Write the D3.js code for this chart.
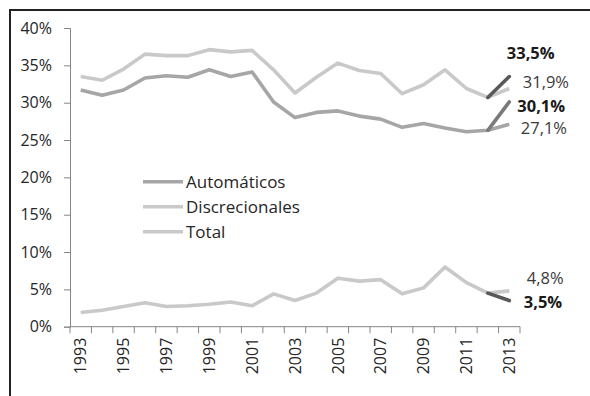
<!DOCTYPE html>
<html>
<head>
<meta charset="utf-8">
<script src="https://cdn.jsdelivr.net/npm/d3@7"></script>
<style>
  html, body { margin: 0; padding: 0; background: #fff; }
  svg { display: block; font-family: "Open Sans", sans-serif; }
</style>
</head>
<body>
<svg id="chart" width="590" height="396"></svg>
<script>
// Years on the category axis (every other one is labelled)
const years = [1993, 1994, 1995, 1996, 1997, 1998, 1999, 2000, 2001, 2002, 2003,
               2004, 2005, 2006, 2007, 2008, 2009, 2010, 2011, 2012, 2013];
const tickYears = [1993, 1995, 1997, 1999, 2001, 2003, 2005, 2007, 2009, 2011, 2013];
const yTicks = [0, 5, 10, 15, 20, 25, 30, 35, 40];

// Share of GDP (%), 1993-2013
const total = [33.5, 33.0, 34.5, 36.5, 36.3, 36.3, 37.1, 36.8, 37.0, 34.4, 31.3,
               33.4, 35.3, 34.3, 33.9, 31.2, 32.4, 34.4, 31.9, 30.7, 31.9];
const automaticos = [31.7, 31.0, 31.7, 33.3, 33.6, 33.4, 34.4, 33.5, 34.1, 30.1, 28.0,
                     28.7, 28.9, 28.2, 27.8, 26.7, 27.2, 26.6, 26.1, 26.3, 27.1];
const discrecionales = [1.9, 2.2, 2.7, 3.2, 2.7, 2.8, 3.0, 3.3, 2.8, 4.4, 3.5,
                        4.5, 6.5, 6.1, 6.3, 4.4, 5.2, 8.0, 5.9, 4.5, 4.8];

// Alternative 2013 values (highlighted segment 2012 -> 2013)
const alt2013 = { total: 33.5, automaticos: 30.1, discrecionales: 3.5 };

const legendNames = ["Automáticos", "Discrecionales", "Total"];

const fmt = v => d3.format(".1f")(v).replace(".", ",") + "%";

const svg = d3.select("#chart");

// outer frame
svg.append("rect")
  .attr("x", 10).attr("y", 10).attr("width", 620).attr("height", 420)
  .attr("fill", "none").attr("stroke", "#222").attr("stroke-width", 2);

const x = d3.scaleBand().domain(years).range([70, 520]).padding(0);
const xc = yr => x(yr) + x.bandwidth() / 2;
const y = d3.scaleLinear().domain([0, 40]).range([326.7, 28]);

// Y axis
const yAxis = d3.axisLeft(y).tickValues(yTicks).tickSize(6).tickPadding(12)
  .tickFormat(d => d + "%");
const gy = svg.append("g").attr("transform", "translate(70,0)").call(yAxis);
gy.select(".domain").attr("stroke", "#868686");
gy.selectAll(".tick line").attr("stroke", "#868686");
gy.selectAll(".tick text").attr("font-size", 16).attr("fill", "#262626")
  .attr("font-family", "Open Sans, sans-serif");

// X axis: baseline and tick marks at band edges
const gx = svg.append("g");
gx.append("line")
  .attr("x1", 70).attr("x2", 520).attr("y1", y(0)).attr("y2", y(0))
  .attr("stroke", "#868686");
const edges = years.map(d => x(d)).concat([x(years[years.length - 1]) + x.bandwidth()]);
gx.selectAll("line.tk").data(edges).join("line").attr("class", "tk")
  .attr("x1", d => d).attr("x2", d => d)
  .attr("y1", y(0)).attr("y2", y(0) + 6.5)
  .attr("stroke", "#868686");
gx.selectAll("text").data(tickYears).join("text")
  .attr("transform", d => `translate(${xc(d)},${y(0) + 11}) rotate(-90)`)
  .attr("text-anchor", "end").attr("dy", "0.36em")
  .attr("font-size", 16).attr("fill", "#262626")
  .text(d => d);

// Lines
const line = d3.line().x((d, i) => xc(years[i])).y(d => y(d));
const series = [
  { key: "total", values: total, color: "#c9c9c9", dark: "#595959" },
  { key: "automaticos", values: automaticos, color: "#a6a6a6", dark: "#7a7a7a" },
  { key: "discrecionales", values: discrecionales, color: "#c9c9c9", dark: "#595959" }
];

series.forEach(s => {
  svg.append("path").datum(s.values)
    .attr("d", line)
    .attr("fill", "none").attr("stroke", s.color)
    .attr("stroke-width", 3.6).attr("stroke-linejoin", "round");
});
series.forEach(s => {
  const n = years.length;
  svg.append("line")
    .attr("x1", xc(years[n - 2])).attr("y1", y(s.values[n - 2]))
    .attr("x2", xc(years[n - 1])).attr("y2", y(alt2013[s.key]))
    .attr("stroke", s.dark).attr("stroke-width", 3.6).attr("stroke-linecap", "round");
});

// End labels (offsets relative to the 2013 point)
const last = years[years.length - 1];
const endLabels = [
  { v: alt2013.total, bold: true, dx: -2.5, dy: -23.5 },
  { v: total[total.length - 1], bold: false, dx: 13.5, dy: -6.5 },
  { v: alt2013.automaticos, bold: true, dx: 8, dy: 4.2 },
  { v: automaticos[automaticos.length - 1], bold: false, dx: 11.5, dy: 3.8 },
  { v: discrecionales[discrecionales.length - 1], bold: false, dx: 17.5, dy: -13 },
  { v: alt2013.discrecionales, bold: true, dx: 14.5, dy: 1.3 }
];
svg.selectAll("text.end").data(endLabels).join("text").attr("class", "end")
  .attr("x", d => xc(last) + d.dx)
  .attr("y", d => y(d.v) + d.dy)
  .attr("dy", "0.36em")
  .attr("font-size", 16.5)
  .attr("font-weight", d => d.bold ? 700 : 400)
  .attr("fill", d => d.bold ? "#1a1a1a" : "#3a3a3a")
  .text(d => fmt(d.v));

// Legend
const legendColors = ["#a6a6a6", "#c9c9c9", "#c9c9c9"];
const lg = svg.append("g").attr("transform", "translate(143,181.7)");
legendNames.forEach((name, i) => {
  const g = lg.append("g").attr("transform", `translate(0,${i * 25})`);
  g.append("line").attr("x1", 0).attr("x2", 40).attr("y1", 0).attr("y2", 0)
    .attr("stroke", legendColors[i]).attr("stroke-width", 3.6);
  g.append("text").attr("x", 43).attr("dy", "0.36em")
    .attr("font-size", 17).attr("fill", "#262626").text(name);
});
</script>
</body>
</html>
